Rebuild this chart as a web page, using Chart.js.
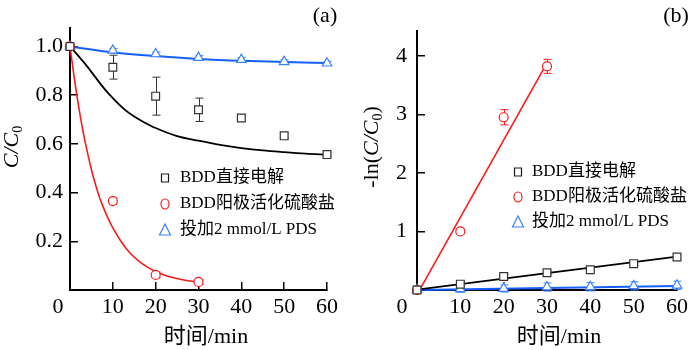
<!DOCTYPE html>
<html><head><meta charset="utf-8">
<script src="https://cdn.jsdelivr.net/npm/chart.js@4.4.0/dist/chart.umd.min.js"></script>
<style>
html,body{margin:0;padding:0;background:#fff;}
#wrap{position:relative;width:700px;height:350px;overflow:hidden;}
.pane{position:absolute;top:0;width:350px;height:350px;}
</style></head><body>
<div id="wrap">
<div class="pane" style="left:0"><canvas id="ca" width="350" height="350"></canvas></div>
<div class="pane" style="left:350px"><canvas id="cb" width="350" height="350"></canvas></div>
</div>
<script>
// ---------- data ----------
const seriesNames = ['BDD直接电解', 'BDD阳极活化硫酸盐', '投加2 mmol/L PDS'];
const timeMin = [0, 10, 20, 30, 40, 50, 60];
const timeAct = [0, 10, 20, 30];
const xTicks = [0, 10, 20, 30, 40, 50, 60];

// panel (a): C/C0
const aDirect = [1.0, 0.915, 0.796, 0.74, 0.706, 0.633, 0.556];
const aDirectErr = [0, 0.049, 0.078, 0.048, 0.01, 0.01, 0.008];
const aAct = [1.0, 0.365, 0.062, 0.033];
const aActErr = [0, 0.012, 0.012, 0.01];
const aPds = [1.0, 0.984, 0.969, 0.954, 0.946, 0.937, 0.931];
const aPdsErr = [0, 0.008, 0.008, 0.008, 0.008, 0.008, 0.008];
const aDirectFitT = [0, 2, 4, 6, 8, 10, 12.5, 15, 17.5, 20, 25, 30, 35, 40, 45, 50, 55, 60];
const aDirectFit = [1.0, 0.96, 0.918, 0.872, 0.827, 0.788, 0.745, 0.712, 0.687, 0.665, 0.632, 0.613, 0.596, 0.583, 0.573, 0.566, 0.56, 0.556];
const aActFitT = [0, 1, 2, 3, 4, 5, 6, 7, 8, 9, 10, 12, 14, 16, 18, 20, 22, 24, 26, 28, 30];
const aActFit = [1.0, 0.87, 0.755, 0.655, 0.57, 0.495, 0.43, 0.375, 0.33, 0.29, 0.255, 0.197, 0.152, 0.12, 0.095, 0.076, 0.062, 0.051, 0.043, 0.037, 0.032];
const aPdsFit = [1.0, 0.975, 0.961, 0.949, 0.941, 0.936, 0.932];
const aYTicks = [0.2, 0.4, 0.6, 0.8, 1.0];

// panel (b): -ln(C/C0)
const bDirect = [0, 0.1, 0.23, 0.296, 0.347, 0.45, 0.565];
const bDirectErr = [0, 0.02, 0.04, 0.03, 0.03, 0.03, 0.03];
const bAct = [0, 1.0, 2.95, 3.82];
const bActErr = [0, 0.04, 0.13, 0.12];
const bPds = [0, 0.02, 0.025, 0.05, 0.055, 0.07, 0.08];
const bPdsErr = [0, 0.06, 0.06, 0.07, 0.07, 0.07, 0.07];
const bDirectFitT = [0, 60];
const bDirectFit = [0.005, 0.57];
const bActFitT = [0, 30];
const bActFit = [-0.08, 3.88];
const bPdsFitT = [0, 60];
const bPdsFit = [0, 0.07];
const bYTicks = [1, 2, 3, 4];

// ---------- styling ----------
const SERIF = '"Liberation Serif","Times New Roman",serif';
const MIXED = '"Liberation Serif","Noto Sans CJK SC",serif';
const BLACK = '#1a1a1a', RED = '#ff1a1a', BLUE = '#1560ff', BLUE_M = '#3a80ff';

const pts = (xs, ys) => xs.map((x, i) => ({x, y: ys[i]}));

function markerSet(label, xs, ys, errs, style, color, radius) {
  return {label, data: pts(xs, ys), errors: errs, showLine: false, pointStyle: style,
    pointRadius: radius, pointHoverRadius: radius, borderColor: color,
    backgroundColor: '#ffffff', borderWidth: 1.2, order: 0, clip: false};
}
function fitSet(xs, ys, color, width) {
  return {label: '', data: pts(xs, ys), showLine: true, pointRadius: 0, borderColor: color,
    borderWidth: width, cubicInterpolationMode: 'monotone', fill: false, order: 1,
    clip: {left: 2, top: 2, right: 2, bottom: 10}};
}

const errorBars = {
  id: 'errorBars',
  beforeDatasetsDraw(chart) {
    const ctx = chart.ctx, xs = chart.scales.x, ys = chart.scales.y;
    chart.data.datasets.forEach(ds => {
      if (!ds.errors) return;
      ctx.save();
      ctx.strokeStyle = ds.borderColor; ctx.lineWidth = 1;
      ds.data.forEach((p, i) => {
        const e = ds.errors[i]; if (!e) return;
        const x = Math.round(xs.getPixelForValue(p.x)) + 0.5;
        const y1 = ys.getPixelForValue(p.y + e), y2 = ys.getPixelForValue(p.y - e);
        ctx.beginPath();
        ctx.moveTo(x, y1); ctx.lineTo(x, y2);
        ctx.moveTo(x - 4, y1); ctx.lineTo(x + 4, y1);
        ctx.moveTo(x - 4, y2); ctx.lineTo(x + 4, y2);
        ctx.stroke();
      });
      ctx.restore();
    });
  }
};

function drawSymbol(ctx, kind, x, y, color) {
  ctx.save(); ctx.strokeStyle = color; ctx.lineWidth = 1.2; ctx.beginPath();
  if (kind === 'rect') ctx.rect(x - 3.5, y - 4, 7, 8);
  else if (kind === 'circle') ctx.ellipse(x, y, 4, 5, 0, 0, Math.PI * 2);
  else { ctx.moveTo(x, y - 6); ctx.lineTo(x + 5.5, y + 5); ctx.lineTo(x - 5.5, y + 5); ctx.closePath(); }
  ctx.stroke(); ctx.restore();
}

const decor = {
  id: 'decor',
  afterDraw(chart, args, o) {
    const ctx = chart.ctx;
    ctx.save();
    ctx.fillStyle = '#000';
    // panel label
    ctx.font = '22px ' + SERIF; ctx.textAlign = 'center'; ctx.textBaseline = 'middle';
    ctx.fillText(o.panel, o.panelX, 16);
    // origin label
    ctx.fillText('0', o.zeroX, 307);
    // x title
    ctx.font = '22px ' + MIXED;
    ctx.fillText('时间/min', o.xTitleX, 337);
    // y title (rotated, with subscript)
    ctx.translate(o.yTitleX, 147); ctx.rotate(-Math.PI / 2);
    const fontFor = p => p.sub ? '14px ' + SERIF : (p.it ? 'italic 22px ' : '22px ') + SERIF;
    let total = 0;
    o.yTitle.forEach(p => { ctx.font = fontFor(p); p.w = ctx.measureText(p.t).width; total += p.w; });
    let x = -total / 2; ctx.textAlign = 'left';
    o.yTitle.forEach(p => { ctx.font = fontFor(p); ctx.fillText(p.t, x, p.sub ? 6 : 0); x += p.w; });
    ctx.setTransform(1, 0, 0, 1, 0, 0);
    // legend
    const kinds = ['rect', 'circle', 'triangle'], cols = [BLACK, RED, BLUE_M];
    ctx.font = '17px ' + MIXED; ctx.textAlign = 'left'; ctx.textBaseline = 'middle';
    seriesNames.forEach((name, i) => {
      const y = o.legY[i];
      drawSymbol(ctx, kinds[i], o.legSymX, y, cols[i]);
      ctx.fillStyle = '#000';
      ctx.fillText(name, o.legTextX, y);
    });
    ctx.restore();
  }
};

function axisOpts(yMax, yTicks, yWidth, yPad, fmt) {
  return {
    x: {type: 'linear', min: 0, max: 60,
      afterFit(s) { s.height = 60; },
      afterBuildTicks(s) { s.ticks = xTicks.map(v => ({value: v})); },
      ticks: {font: {family: SERIF, size: 22}, color: '#000', padding: 12, maxRotation: 0, autoSkip: false,
        callback: v => v === 0 ? '' : String(v)},
      grid: {display: true, drawOnChartArea: false, drawTicks: true, tickLength: -8, color: '#000', lineWidth: 1.5},
      border: {display: true, color: '#000', width: 2}},
    y: {type: 'linear', min: 0, max: yMax,
      afterFit(s) { s.width = yWidth; },
      afterBuildTicks(s) { s.ticks = [0].concat(yTicks).map(v => ({value: v})); },
      ticks: {font: {family: SERIF, size: 22}, color: '#000', padding: yPad, autoSkip: false,
        callback: v => v === 0 ? '' : fmt(v)},
      grid: {display: true, drawOnChartArea: false, drawTicks: true, tickLength: -8, color: '#000', lineWidth: 1.5},
      border: {display: true, color: '#000', width: 2}}
  };
}

new Chart(document.getElementById('ca'), {
  type: 'scatter',
  data: {datasets: [
    fitSet(aDirectFitT, aDirectFit, '#000', 1.8),
    fitSet(aActFitT, aActFit, RED, 1.6),
    fitSet(timeMin, aPdsFit, BLUE, 2),
    markerSet(seriesNames[0], timeMin, aDirect, aDirectErr, 'rect', '#333', 5.5),
    markerSet(seriesNames[1], timeAct, aAct, aActErr, 'circle', RED, 4.5),
    markerSet(seriesNames[2], timeMin, aPds, aPdsErr, 'triangle', BLUE_M, 5.5)
  ]},
  options: {
    responsive: false, animation: false, devicePixelRatio: 1,
    layout: {padding: {top: 5, right: 14, left: 0, bottom: 0}},
    plugins: {legend: {display: false}, tooltip: {enabled: false},
      decor: {panel: '(a)', panelX: 325, zeroX: 58, xTitleX: 206, yTitleX: 12,
        yTitle: [{t: 'C/C', it: true}, {t: '0', sub: true}],
        legSymX: 165, legTextX: 180, legY: [178, 204, 230]}},
    scales: axisOpts(1.075, aYTicks, 70, 15, v => v.toFixed(1))
  },
  plugins: [errorBars, decor]
});

new Chart(document.getElementById('cb'), {
  type: 'scatter',
  data: {datasets: [
    fitSet(bDirectFitT, bDirectFit, '#000', 1.8),
    fitSet(bActFitT, bActFit, RED, 1.6),
    fitSet(bPdsFitT, bPdsFit, BLUE, 2),
    markerSet(seriesNames[0], timeMin, bDirect, bDirectErr, 'rect', '#333', 5.5),
    markerSet(seriesNames[1], timeAct, bAct, bActErr, 'circle', RED, 4.5),
    markerSet(seriesNames[2], timeMin, bPds, bPdsErr, 'triangle', BLUE_M, 5.5)
  ]},
  options: {
    responsive: false, animation: false, devicePixelRatio: 1,
    layout: {padding: {top: 5, right: 12, left: 0, bottom: 0}},
    plugins: {legend: {display: false}, tooltip: {enabled: false},
      decor: {panel: '(b)', panelX: 326, zeroX: 52, xTitleX: 209, yTitleX: 22,
        yTitle: [{t: '-ln('}, {t: 'C/C', it: true}, {t: '0', sub: true}, {t: ')'}],
        legSymX: 168, legTextX: 182, legY: [172, 197, 222]}},
    scales: axisOpts(4.42, bYTicks, 67, 18, v => String(v))
  },
  plugins: [errorBars, decor]
});
</script>
</body></html>
